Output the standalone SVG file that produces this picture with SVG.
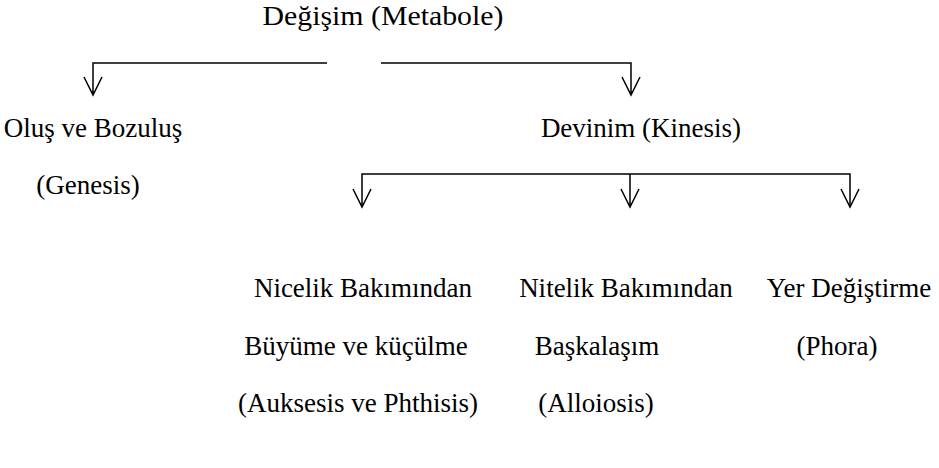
<svg xmlns="http://www.w3.org/2000/svg" width="939" height="468" viewBox="0 0 939 468">
<style>
text{font-family:"Liberation Serif","Times New Roman",serif;font-size:27px;fill:#000;text-anchor:middle}
.c{fill:none;stroke:#000;stroke-width:1.5}
</style>
<rect width="939" height="468" fill="#fff"/>
<g id="connectors" class="c">
<path d="M327,63 H93 V95 M84,77 L93,95 L102,77"/>
<path d="M381,63 H631 V95 M622,77 L631,95 L640,77"/>
<path d="M362,207 V174 H850 V207 M353,189 L362,207 L371,189"/>
<path d="M630,174 V207 M621,189 L630,207 L639,189"/>
<path d="M841,189 L850,207 L859,189"/>
</g>
<g id="n-metabole"><text x="383" y="25" textLength="241" lengthAdjust="spacingAndGlyphs">Değişim (Metabole)</text></g>
<g id="n-genesis"><text x="93" y="137">Oluş ve Bozuluş</text><text x="88" y="194">(Genesis)</text></g>
<g id="n-kinesis"><text x="641" y="137">Devinim (Kinesis)</text></g>
<g id="n-auksesis"><text x="363" y="297">Nicelik Bakımından</text><text x="356" y="355">Büyüme ve küçülme</text><text x="358" y="412">(Auksesis ve Phthisis)</text></g>
<g id="n-alloiosis"><text x="626" y="297">Nitelik Bakımından</text><text x="597" y="355">Başkalaşım</text><text x="596" y="412">(Alloiosis)</text></g>
<g id="n-phora"><text x="849" y="297">Yer Değiştirme</text><text x="837" y="355">(Phora)</text></g>
</svg>
